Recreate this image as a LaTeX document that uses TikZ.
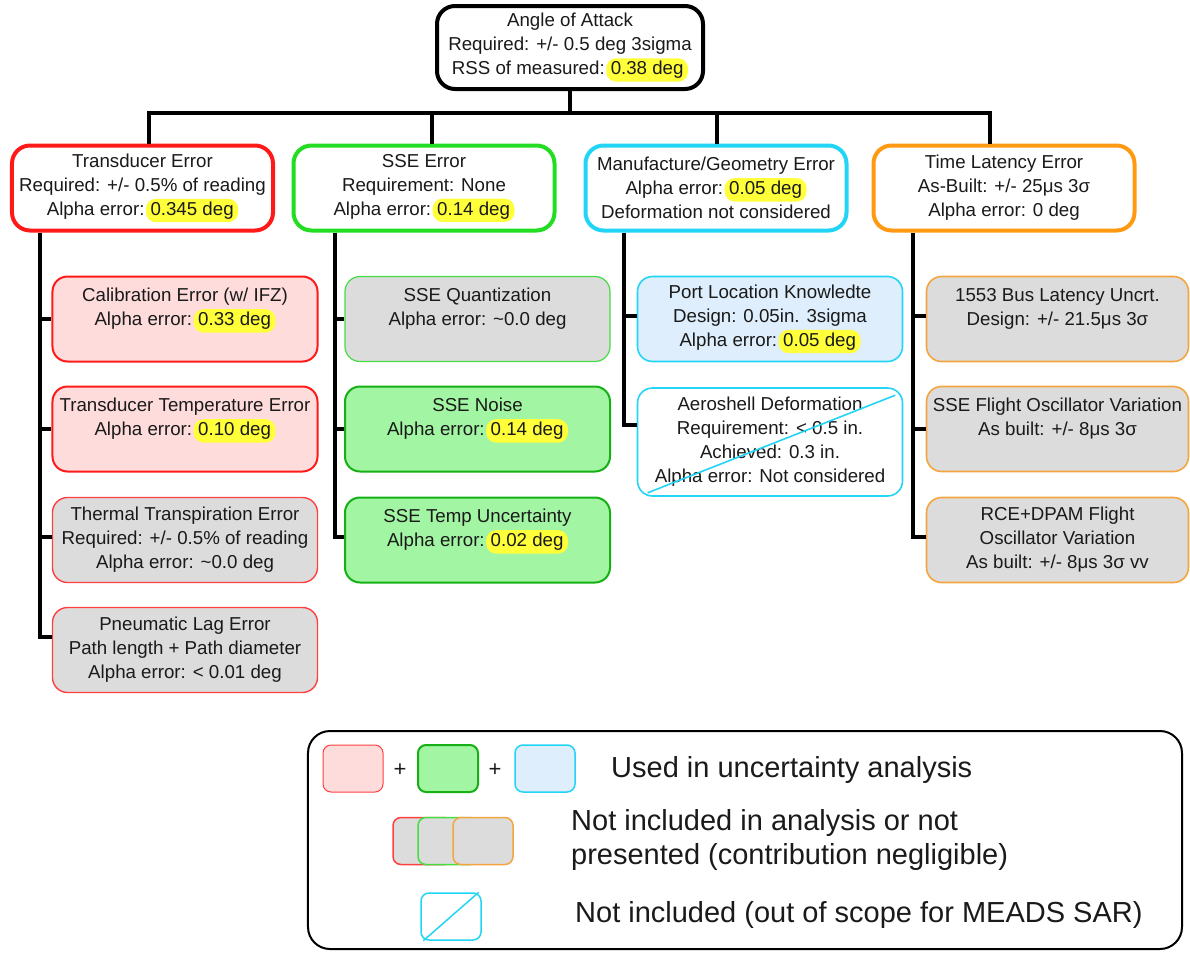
\documentclass[tikz,border=0pt]{standalone}
\usepackage{fontspec}
\setmainfont{Liberation Sans}
\definecolor{cred}{HTML}{FF1A1A}
\definecolor{clred}{HTML}{FF4040}
\definecolor{cpink}{HTML}{FFDCDC}
\definecolor{cgreen}{HTML}{22DD22}
\definecolor{cmgreen}{HTML}{44DD44}
\definecolor{cdgreen}{HTML}{16B016}
\definecolor{clgreen}{HTML}{A2F5A2}
\definecolor{ccyan}{HTML}{22D4F5}
\definecolor{clblue}{HTML}{DEEEFC}
\definecolor{corange}{HTML}{FF9911}
\definecolor{clorange}{HTML}{F5A540}
\definecolor{cgray}{HTML}{DCDCDC}
\definecolor{hly}{HTML}{FFFF3A}
\definecolor{ctext}{HTML}{1A1A1A}
\newcommand{\hlt}[1]{\hspace{1.5bp}\tikz[baseline=(hx.base)]\node[shape=rectangle,fill=hly,draw=none,rounded corners=10bp,inner xsep=4.5bp,inner ysep=3bp,minimum width=0pt,minimum height=0pt,line width=0pt,anchor=base,text=ctext](hx){#1};}
\begin{document}
\begin{tikzpicture}[x=1bp,y=-1bp,
  every node/.style={font=\fontsize{18.7bp}{24bp}\selectfont, align=center, inner sep=0pt, text=ctext},
  conn/.style={line width=4bp, draw=black},
  topbox/.style={draw=black, line width=4bp, rounded corners=18bp, minimum width=266bp, minimum height=83bp, fill=white},
  hdr/.style={line width=4bp, rounded corners=18bp, minimum width=261bp, minimum height=85bp, fill=white},
  kid/.style={rounded corners=15bp, minimum width=265bp, minimum height=85bp},
  usedred/.style={kid, draw=cred, line width=2bp, fill=cpink},
  grayred/.style={kid, draw=clred, line width=1.4bp, fill=cgray},
  usedgreen/.style={kid, draw=cdgreen, line width=2bp, fill=clgreen},
  graygreen/.style={kid, draw=cmgreen, line width=1.2bp, fill=cgray},
  usedblue/.style={kid, draw=ccyan, line width=1.6bp, fill=clblue},
  outblue/.style={kid, draw=ccyan, line width=1.6bp, fill=white},
  grayorange/.style={kid, draw=clorange, line width=1.6bp, fill=cgray},
  legtext/.style={font=\fontsize{29bp}{34bp}\selectfont, anchor=west, align=left},
  sw/.style={rounded corners=8bp, minimum width=60bp, minimum height=47bp}
]
\useasboundingbox (0,0) rectangle (1190,953);

% top
\node[topbox] (top) at (570,47.5) {Angle of Attack\\Required: +/- 0.5 deg 3sigma\\RSS of measured:\hlt{0.38 deg}};

% headers
\node[hdr, draw=cred] (h1) at (142.5,188) {Transducer Error\\Required: +/- 0.5\% of reading\\Alpha error:\hlt{0.345 deg}};
\node[hdr, draw=cgreen] (h2) at (424,188) {SSE Error\\Requirement: None\\Alpha error:\hlt{0.14 deg}};
\node[hdr, draw=ccyan] (h3) at (716,188) {Manufacture/Geometry Error\\Alpha error:\hlt{0.05 deg}\\Deformation not considered};
\node[hdr, draw=corange] (h4) at (1004,188) {Time Latency Error\\As-Built: +/- 25μs 3σ\\Alpha error: 0 deg};

% column 1
\node[usedred] (k11) at (185,319) {Calibration Error (w/ IFZ)\\Alpha error:\hlt{0.33 deg}\\\mbox{}};
\node[usedred] (k12) at (185,429) {Transducer Temperature Error\\Alpha error:\hlt{0.10 deg}\\\mbox{}};
\node[grayred] (k13) at (185,540) {Thermal Transpiration Error\\Required: +/- 0.5\% of reading\\Alpha error: \textasciitilde0.0 deg};
\node[grayred] (k14) at (185,650) {Pneumatic Lag Error\\Path length + Path diameter\\Alpha error: < 0.01 deg};

% column 2
\node[graygreen] (k21) at (477.5,319) {SSE Quantization\\Alpha error: \textasciitilde0.0 deg\\\mbox{}};
\node[usedgreen] (k22) at (477.5,429) {SSE Noise\\Alpha error:\hlt{0.14 deg}\\\mbox{}};
\node[usedgreen] (k23) at (477.5,540) {SSE Temp Uncertainty\\Alpha error:\hlt{0.02 deg}\\\mbox{}};

% column 3
\node[usedblue] (k31) at (770,319) {Port Location Knowledte\\Design: 0.05in. 3sigma\\Alpha error:\hlt{0.05 deg}};
\node[outblue, minimum height=108bp] (k32) at (770,442) {Aeroshell Deformation\\Requirement: < 0.5 in.\\Achieved: 0.3 in.\\Alpha error: Not considered};
\draw[ccyan, line width=1.6bp] ([shift={(11,-4)}]k32.south west) -- ([shift={(-8,8)}]k32.north east);

% column 4
\node[grayorange, minimum width=262bp] (k41) at (1057.5,319) {1553 Bus Latency Uncrt.\\Design: +/- 21.5μs 3σ\\\mbox{}};
\node[grayorange, minimum width=262bp] (k42) at (1057.5,429) {SSE Flight Oscillator Variation\\As built: +/- 8μs 3σ\\\mbox{}};
\node[grayorange, minimum width=262bp] (k43) at (1057.5,540) {RCE+DPAM Flight\\Oscillator Variation\\As built: +/- 8μs 3σ vv};

% connectors
\coordinate (bus) at (570,113);
\coordinate (b1) at (149,113);
\coordinate (b2) at (432,113);
\coordinate (b3) at (717,113);
\coordinate (b4) at (990,113);
\draw[conn] (top.south) -- (bus);
\draw[conn] (b1 |- h1.north) -- (b1) -- (b4) -- (b4 |- h4.north);
\draw[conn] (b2) -- (b2 |- h2.north);
\draw[conn] (b3) -- (b3 |- h3.north);

\coordinate (v1) at (40,0);
\coordinate (v2) at (335,0);
\coordinate (v3) at (624,0);
\coordinate (v4) at (913,0);
\draw[conn] (h1.south -| v1) |- ([yshift=13bp]k14.west);
\draw[conn] (v1 |- k11.west) -- (k11.west);
\draw[conn] (v1 |- k12.west) -- (k12.west);
\draw[conn] ([yshift=3bp]k13.west -| v1) -- ([yshift=3bp]k13.west);
\draw[conn] (h2.south -| v2) |- ([yshift=3bp]k23.west);
\draw[conn] (v2 |- k21.west) -- (k21.west);
\draw[conn] (v2 |- k22.west) -- (k22.west);
\draw[conn] (h3.south -| v3) |- ([yshift=17bp]k32.west);
\draw[conn] ([yshift=3bp]k31.west -| v3) -- ([yshift=3bp]k31.west);
\draw[conn] (h4.south -| v4) |- ([yshift=3bp]k43.west);
\draw[conn] ([yshift=3bp]k41.west -| v4) -- ([yshift=3bp]k41.west);
\draw[conn] (v4 |- k42.west) -- (k42.west);

% legend
\node[draw=black, line width=2bp, rounded corners=22bp, minimum width=874bp, minimum height=218bp] (leg) at (745,840) {};
\node[sw, draw=clred, line width=1bp, fill=cpink] (l1) at (353,768.5) {};
\node[font=\fontsize{22bp}{24bp}\selectfont] (p1) at (400,770) {+};
\node[sw, draw=cdgreen, line width=2bp, fill=clgreen] (l2) at (448,768.5) {};
\node[font=\fontsize{22bp}{24bp}\selectfont] (p2) at (495,770) {+};
\node[sw, draw=ccyan, line width=1.5bp, fill=clblue] (l3) at (545,768.5) {};
\node[legtext] (t1) at (611,770) {Used in uncertainty analysis};

\node[sw, draw=clred, line width=1.5bp, fill=cgray] (g1) at (423,841) {};
\node[sw, draw=cmgreen, line width=1.5bp, fill=cgray] (g2) at (448,841) {};
\node[sw, draw=clorange, line width=1.5bp, fill=cgray] (g3) at (483,841) {};
\node[legtext] (t2) at (571,840) {Not included in analysis or not\\presented (contribution negligible)};

\node[sw, draw=ccyan, line width=1.5bp, fill=white] (o1) at (451,916.5) {};
\draw[ccyan, line width=1.5bp] ([xshift=3bp]o1.south west) -- ([xshift=-3bp]o1.north east);
\node[legtext] (t3) at (575,915) {Not included (out of scope for MEADS SAR)};
\end{tikzpicture}
\end{document}
